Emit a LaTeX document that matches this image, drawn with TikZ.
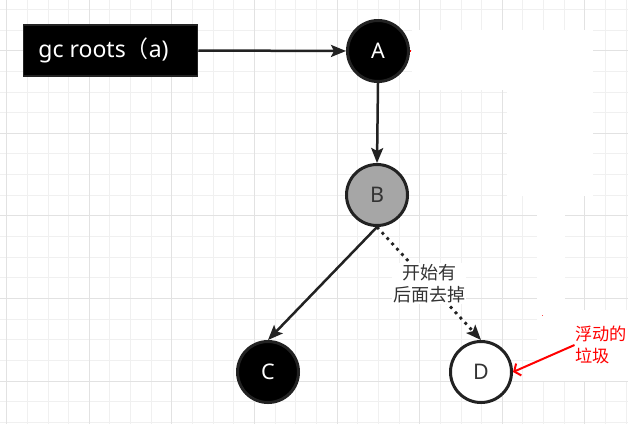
\documentclass[tikz,border=0pt]{standalone}
\usepackage{fontspec}
\newfontfamily\cjk{Noto Sans CJK SC}
\newfontfamily\lat{Noto Sans}
\usetikzlibrary{arrows.meta}
\definecolor{gmin}{RGB}{240,240,240}
\definecolor{gmaj}{RGB}{226,226,226}
\definecolor{edge}{RGB}{34,34,34}
\definecolor{txt}{RGB}{51,51,51}
\definecolor{bgray}{RGB}{166,166,166}
\tikzset{
  minorline/.style={gmin, line width=1pt},
  majorline/.style={gmaj, line width=1pt},
  blackbox/.style={rectangle, fill=black, draw=edge, line width=1.5pt, minimum width=174pt, minimum height=51pt, text=white, font=\lat\fontsize{23}{27}\selectfont},
  gcnode/.style={circle, draw=edge, line width=3pt, minimum size=61pt, inner sep=0pt, font=\lat\fontsize{21.5}{25}\selectfont},
  blacknode/.style={gcnode, fill=black, text=white},
  graynode/.style={gcnode, fill=bgray, text=txt},
  whitenode/.style={gcnode, fill=white, text=txt},
  conn/.style={edge, line width=2.5pt, -{Stealth[length=15pt, width=12pt, inset=3pt]}},
  dotconn/.style={conn, line width=2.8pt, dash pattern=on 2.8pt off 4.4pt},
  cnlabel/.style={fill=white, inner sep=1pt, align=center, text=txt, font=\cjk\fontsize{18}{21.7}\selectfont},
  redlabel/.style={inner sep=0.5pt, align=left, text=red, font=\cjk\fontsize{17.2}{21.7}\selectfont},
  redconn/.style={red, line width=2pt, -{Straight Barb[length=5pt, width=13pt, line width=2pt]}},
}
\begin{document}
\begin{tikzpicture}[x=1pt, y=-1pt]
\useasboundingbox (0,0) rectangle (628,424);
\fill[white] (0,0) rectangle (628,424);
% grid
\foreach \k in {0,...,30} {
  \draw[minorline] ({6.7+20.65*\k},0) -- ({6.7+20.65*\k},424);
}
\foreach \k in {-2,...,18} {
  \draw[minorline] (0,{50.7+20.65*\k}) -- (628,{50.7+20.65*\k});
}
\foreach \k in {0,...,7} {
  \draw[majorline] ({6.7+82.6*\k},0) -- ({6.7+82.6*\k},424);
}
\foreach \k in {-1,...,4} {
  \draw[majorline] (0,{50.7+82.6*\k}) -- (628,{50.7+82.6*\k});
}
% white patches over the grid
\fill[white] (412,30) rectangle (592,90);
\fill[white] (507,30) rectangle (593,196);
\fill[white] (537,196) rectangle (565,310);
\fill[white] (537,310) rectangle (628,381);

% nodes
\node[blackbox] (root) at (110.5,50.5) {gc roots{\cjk （}a)\hspace*{14pt}};
\node[blacknode] (A) at (378,51) {A};
\node[graynode] (B) at (377,195) {B};
\node[blacknode] (C) at (268,372) {C};
\node[whitenode] (D) at (481,372) {D};
\node[redlabel, anchor=west] (fd) at (574.5,345) {浮动的\\垃圾};

% connectors
\draw[conn] (root.east) -- (A.west);
\draw[conn] (A.south) -- (B.north);
\draw[conn] (B.south) -- (C.north);
\draw[dotconn] (B.south) -- (D.north) node[cnlabel, midway] (lbl) {开始有\\后面去掉};
\draw[redconn] (fd.west) -- (D.east);

% tiny red marks
\fill[red] (A.east) ++(-0.5,-1) rectangle ++(1.5,2);
\fill[red!70] (541.5,314.5) rectangle ++(1.2,1.2);
\end{tikzpicture}
\end{document}
